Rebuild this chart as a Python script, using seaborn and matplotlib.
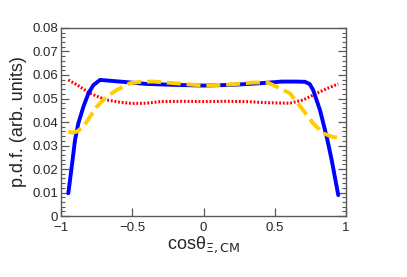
import numpy as np
import pandas as pd
import seaborn as sns
import matplotlib
matplotlib.use('Agg')
import matplotlib.pyplot as plt
from matplotlib.ticker import AutoMinorLocator, FixedLocator

# Data
blue_x = [-0.949, -0.925, -0.902, -0.879, -0.843, -0.808, -0.773, -0.726, -0.586, -0.4, -0.2, 0.0,
          0.2, 0.4, 0.55, 0.65, 0.712, 0.745, 0.77, 0.818, 0.865, 0.90, 0.946]
blue_y = [0.0097, 0.021, 0.0323, 0.0394, 0.0465, 0.0522, 0.0557, 0.0579, 0.0572, 0.0562, 0.0558, 0.0555,
          0.0558, 0.0565, 0.0572, 0.0572, 0.0571, 0.0562, 0.0536, 0.045, 0.0337, 0.0238, 0.0089]

yellow_x = [-0.949, -0.92, -0.89, -0.843, -0.796, -0.75, -0.68, -0.61, -0.516, -0.43, -0.35, -0.2,
            0.0, 0.2, 0.35, 0.45, 0.514, 0.607, 0.70, 0.77, 0.84, 0.90, 0.946]
yellow_y = [0.0359, 0.0355, 0.0359, 0.038, 0.0423, 0.0465, 0.0508, 0.0536, 0.0565, 0.0572, 0.0572, 0.0565,
            0.0555, 0.056, 0.0568, 0.0568, 0.055, 0.0522, 0.045, 0.0394, 0.0352, 0.0338, 0.0333]

red_x = [-0.949, -0.88, -0.796, -0.73, -0.68, -0.586, -0.5, -0.4, -0.3, -0.15, 0.0, 0.15,
         0.3, 0.45, 0.607, 0.70, 0.794, 0.87, 0.946]
red_y = [0.0579, 0.0555, 0.0522, 0.0505, 0.0494, 0.0484, 0.0479, 0.048, 0.0487, 0.0488, 0.0487, 0.0488,
         0.0487, 0.0482, 0.048, 0.0494, 0.0522, 0.0543, 0.0562]

x_ticks = [-1, -0.5, 0, 0.5, 1]
x_labels = ['\u22121', '\u22120.5', '0', '0.5', '1']
y_ticks = [0, 0.01, 0.02, 0.03, 0.04, 0.05, 0.06, 0.07, 0.08]
y_labels = ['0', '0.01', '0.02', '0.03', '0.04', '0.05', '0.06', '0.07', '0.08']

sns.set_style('white')
plt.rcParams['font.family'] = ['Liberation Sans', 'DejaVu Sans']

fig = plt.figure(figsize=(4.07, 2.77), dpi=100)
ax = fig.add_axes([0.15, 0.22, 0.70, 0.679])

sns.lineplot(x=red_x, y=red_y, ax=ax, color='#ff0000', linewidth=2.2, linestyle=(0, (0.6, 0.6)))
sns.lineplot(x=blue_x, y=blue_y, ax=ax, color='#0000ff', linewidth=2.8)
sns.lineplot(x=yellow_x, y=yellow_y, ax=ax, color='#ffcc00', linewidth=2.8, linestyle=(0, (3.6, 1.5)))

ax.set_xlim(-1, 1)
ax.set_ylim(0, 0.08)
ax.xaxis.set_major_locator(FixedLocator(x_ticks))
ax.set_xticklabels(x_labels, fontsize=9.5)
ax.yaxis.set_major_locator(FixedLocator(y_ticks))
ax.set_yticklabels(y_labels, fontsize=9.5)
ax.yaxis.set_minor_locator(AutoMinorLocator(5))

ax.tick_params(axis='y', which='both', direction='in', left=True, right=True, color='0.35', pad=2)
ax.tick_params(axis='y', which='major', length=6, width=0.9)
ax.tick_params(axis='y', which='minor', length=3, width=0.8)
ax.tick_params(axis='x', which='major', direction='in', bottom=True, length=6, width=0.9,
               color='0.35', pad=4.5)

for s in ax.spines.values():
    s.set_color('0.35')
    s.set_linewidth(1.0)

ax.set_xlabel('cos\u03b8$_{\\Xi,\\mathrm{CM}}$', fontsize=13, labelpad=0)
ax.set_ylabel('p.d.f. (arb. units)', fontsize=13, labelpad=4)

fig.savefig('out.png', dpi=100)
